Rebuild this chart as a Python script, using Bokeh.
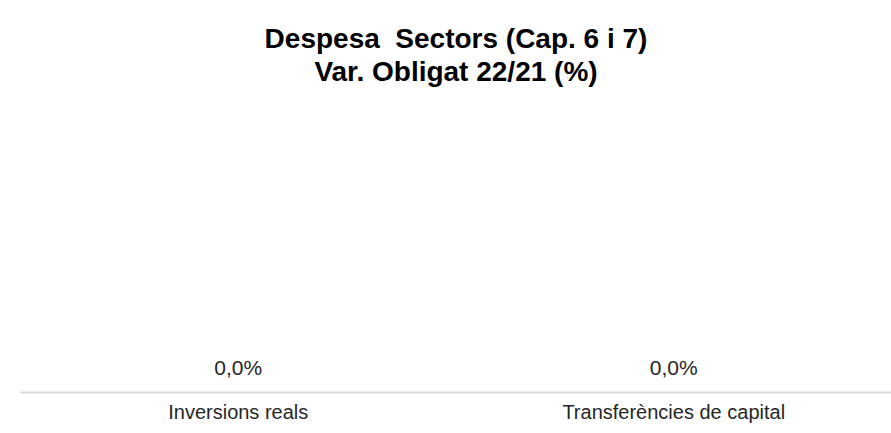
from bokeh.plotting import figure
from bokeh.models import Range1d, ColumnDataSource, Title
from bokeh.core.properties import value
from bokeh.embed import file_html
from bokeh.resources import INLINE

categories = ["Inversions reals", "Transferències de capital"]
values = [0.0, 0.0]
labels = ["0,0%", "0,0%"]
title_line1 = "Despesa\u00a0 Sectors (Cap. 6 i 7)"
title_line2 = "Var. Obligat 22/21 (%)"

src = ColumnDataSource(dict(cat=categories, val=values, lab=labels))

p = figure(x_range=categories, y_range=Range1d(0, 1), width=891, height=433,
           output_backend="svg", toolbar_location=None,
           min_border_left=20, min_border_right=0, min_border_top=86, min_border_bottom=41)

p.title.text = title_line1
p.title.align = "center"
p.title.text_font = "Liberation Sans"
p.title.text_font_size = "28px"
p.title.text_font_style = "bold"
p.title.text_color = "#000000"
p.title.standoff = 0
p.title.offset = 0
p.title.text_line_height = 1.0
t2 = Title(text=title_line2, align="center", text_font="Liberation Sans",
           text_font_size="28px", text_font_style="bold", text_color="#000000",
           standoff=0, text_line_height=1.0)
p.add_layout(t2, "above")

p.vbar(x="cat", top="val", bottom=0, width=0.6, source=src, color="#4472c4")
p.text(x="cat", y="val", text="lab", source=src, text_align="center",
       text_baseline="middle", y_offset=-25, text_font=value("Liberation Sans"),
       text_font_size="21px", text_color="#262626")

p.outline_line_color = None
p.xgrid.visible = False
p.ygrid.visible = False
p.yaxis.visible = False
ax = p.xaxis[0]
ax.axis_line_color = "#d9d9d9"
ax.axis_line_width = 2
ax.major_tick_line_color = None
ax.minor_tick_line_color = None
ax.major_tick_out = 0
ax.major_tick_in = 0
ax.major_label_standoff = 8
ax.major_label_text_font = "Liberation Sans"
ax.major_label_text_font_size = "20px"
ax.major_label_text_color = "#262626"

open("out.html", "w").write(file_html(p, INLINE))
